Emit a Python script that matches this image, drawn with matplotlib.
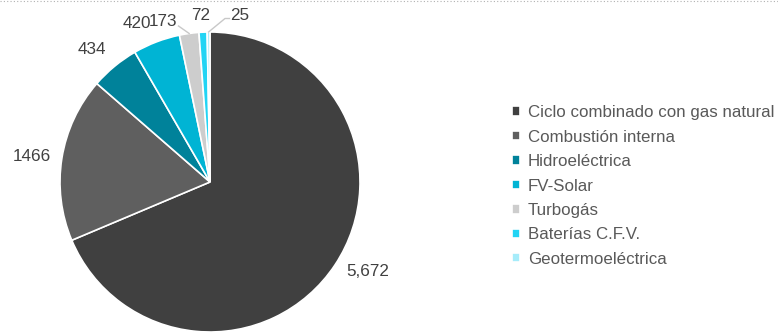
import matplotlib.pyplot as plt
import numpy as np
from matplotlib.lines import Line2D

plt.rcParams["font.family"] = ["Liberation Sans", "DejaVu Sans"]

categories = [
    "Ciclo combinado con gas natural",
    "Combustión interna",
    "Hidroeléctrica",
    "FV-Solar",
    "Turbogás",
    "Baterías C.F.V.",
    "Geotermoeléctrica",
]
values = [5672, 1466, 434, 420, 173, 72, 25]
value_labels = ["5,672", "1466", "434", "420", "173", "72", "25"]

colors = ["#404040", "#5f5f5f", "#00829a", "#00b4d4", "#cdcdcd", "#22d4f4", "#a6ecfa"]

# label placement (data units, pie radius = 1)
label_xy = [(1.05, -0.60), (-1.19, 0.17), (-0.79, 0.88), (-0.49, 1.06),
            (-0.31, 1.07), (-0.06, 1.11), (0.20, 1.11)]
leader = [False, False, False, False, True, False, True]

fig = plt.figure(figsize=(7.78, 3.35), dpi=100)
ax = fig.add_axes([60 / 778, 3 / 335, 300 / 778, 300 / 335])

wedges, _ = ax.pie(values, colors=colors, startangle=90, counterclock=False,
                   wedgeprops=dict(edgecolor="white", linewidth=1.2))
ax.set_xlim(-1, 1)
ax.set_ylim(-1, 1)
ax.set_aspect("equal")

for w, lab, (lx, ly), ld in zip(wedges, value_labels, label_xy, leader):
    if ld:
        th = np.deg2rad((w.theta1 + w.theta2) / 2)
        ex, ey = np.cos(th), np.sin(th)
        if lx > ex:
            pts_x = [ex, lx - 0.1, lx - 0.07]
            pts_y = [ey, ly - 0.02, ly - 0.02]
        else:
            pts_x = [ex, lx + 0.1]
            pts_y = [ey, ly - 0.03]
        ax.plot(pts_x, pts_y, color="#c8c8c8", lw=1, clip_on=False)
    ax.text(lx, ly, lab, ha="center", va="center", fontsize=12.3,
            color="#404040", clip_on=False)

fig.legend(wedges, categories, loc="center left",
           bbox_to_anchor=(512 / 778, 1 - 186 / 335), frameon=False,
           fontsize=12.2, handlelength=0.45, handleheight=0.45,
           handletextpad=0.5, labelspacing=0.56, labelcolor="#595959",
           borderpad=0, borderaxespad=0)

fig.add_artist(Line2D([0, 1], [0.998, 0.998], transform=fig.transFigure,
                      color="#b0b0b0", lw=0.8, ls=(0, (1, 2))))

fig.savefig("out.png", dpi=100)
